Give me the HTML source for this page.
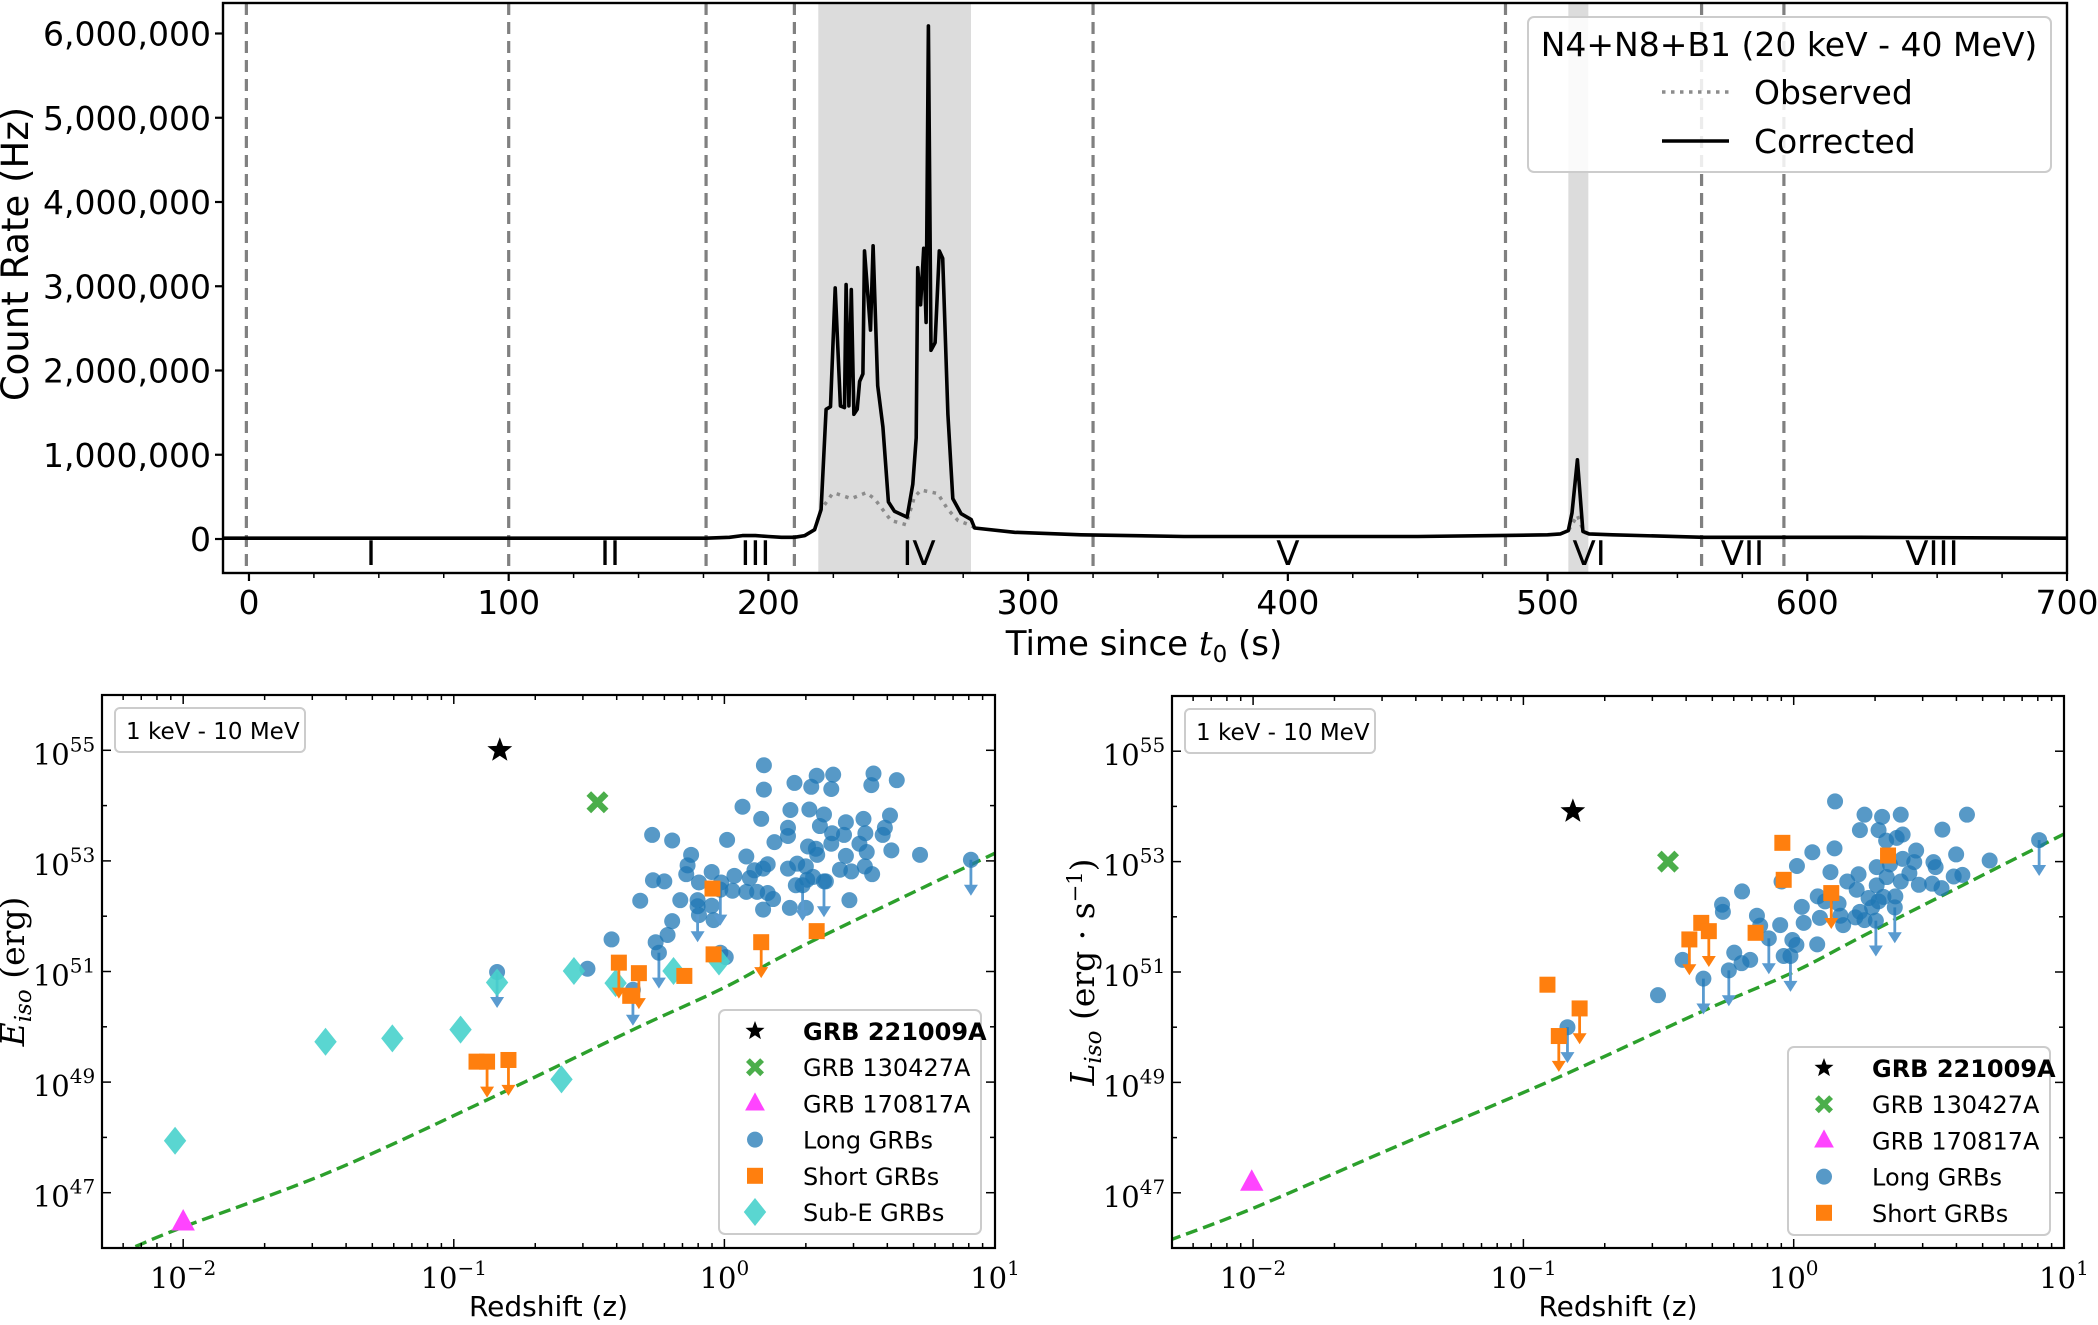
<!DOCTYPE html>
<html><head><meta charset="utf-8"><style>
html,body{margin:0;padding:0;background:#fff;}
svg{display:block;}
text{font-family:"DejaVu Sans","Liberation Sans",sans-serif;}
.serif{font-family:"DejaVu Serif","Liberation Serif",serif;}
</style></head><body>
<svg id="fig" width="2098" height="1325" viewBox="0 0 2098 1325" xmlns="http://www.w3.org/2000/svg"></svg>
<script>
// ===== Top light-curve data =====
const lcTimes = [-10,0,50,100,150,176,185,190,195,200,205,210,214,217.8,220.3,222.2,223.9,225.7,227.7,229.3,229.9,231,231.9,232.9,234.2,235.1,236.4,237,239.3,240.3,242.1,244.1,246.2,248.5,253.4,255.6,256.9,257.5,258.6,259.8,260.7,261.6,262.6,264.2,265.8,267.1,269.1,271,274.2,278.1,279.4,294.8,320.4,360,400,450,480,500,505,508,509.4,511.5,513.6,516,525,560,620,700];
const lcCorrected = [0.01,0.01,0.01,0.01,0.01,0.01,0.02,0.04,0.04,0.03,0.02,0.02,0.04,0.11,0.35,1.54,1.57,2.98,1.58,1.56,3.02,1.58,2.96,1.48,1.54,1.87,1.96,3.42,2.48,3.48,1.82,1.33,0.44,0.33,0.26,0.65,1.2,3.22,2.78,3.45,2.57,6.09,2.24,2.33,3.42,3.33,1.48,0.48,0.30,0.23,0.13,0.08,0.05,0.03,0.03,0.03,0.04,0.05,0.06,0.1,0.31,0.94,0.09,0.06,0.05,0.02,0.02,0.01];
const obsTimesA = [217.8,220.3,224.7,226,231.9,237.6,240.8,247.2,253,256.2,258.8,265.2,269.1,273,278.1,279.4];
const obsValsA = [0.11,0.35,0.54,0.54,0.48,0.55,0.48,0.22,0.17,0.50,0.58,0.54,0.35,0.22,0.16,0.13];
const obsTimesB = [505,508,511.5,514,516];
const obsValsB = [0.06,0.1,0.28,0.08,0.06];
const dividers = [-1,100,176,210,325,483.8,559.3,591];
const shadeStart = [219.2,508];
const shadeEnd = [278,515.7];
const regionNames = ['I','II','III','IV','V','VI','VII','VIII'];
const regionPos = [47,139,195,258,400,516,575,648];
const topXTicks = [0,100,200,300,400,500,600,700];
const topYTicks = [0,1,2,3,4,5,6];
const topYTickLabels = ['0','1,000,000','2,000,000','3,000,000','4,000,000','5,000,000','6,000,000'];

// ===== Bottom-left (Eiso) data: log10 z, log10 E =====
const longZ_E = [0.146,0.259,0.341,0.402,0.551,0.637,0.146,0.321,0.395,0.543,0.067,0.244,0.314,0.368,0.136,0.235,0.353,0.449,0.514,0.612,0.593,-0.267,-0.193,0.010,0.185,0.235,0.309,0.338,0.398,0.395,0.442,0.521,0.499,0.585,0.617,0.723,-0.123,-0.136,0.081,0.160,0.143,0.235,0.269,0.301,0.343,0.449,0.526,0.427,0.469,0.519,0.546,-0.264,-0.222,-0.141,-0.047,-0.012,0.037,0.094,0.111,0.264,0.306,0.328,0.375,-0.094,0.030,0.081,0.121,0.160,0.180,-0.311,-0.163,-0.099,-0.047,0.143,0.242,0.301,0.462,-0.193,-0.094,-0.040,-0.210,-0.417,-0.254,-0.015,0.005,-0.506];
const longE = [54.73,54.41,54.54,54.56,54.58,54.46,54.29,54.34,54.30,54.37,53.98,53.92,53.93,53.84,53.76,53.60,53.63,53.70,53.76,53.82,53.60,53.47,53.37,53.38,53.34,53.45,53.26,53.22,53.50,53.31,53.47,53.50,53.31,53.47,53.19,53.11,53.11,52.92,53.08,52.94,52.86,52.86,52.95,52.90,53.11,53.09,53.16,52.84,52.81,52.90,52.76,52.65,52.63,52.76,52.80,52.61,52.73,52.69,52.83,52.56,52.66,52.71,52.63,52.61,52.46,52.44,52.44,52.42,52.31,52.28,52.29,52.29,52.19,52.12,52.15,52.15,52.29,51.91,52.02,51.93,51.66,51.58,51.53,51.34,51.26,51.05];
const longUL_Z_E = [-0.242,-0.840,-0.338,0.911,0.289,0.368,-0.099,-0.015];
const longUL_E = [51.34,50.99,50.67,53.02,52.56,52.63,52.18,52.48];
const shortZ_E = [-0.044,0.341,-0.040,-0.148,-0.348,-0.916];
const shortE = [52.50,51.73,51.31,50.92,50.56,49.37];
const shortUL_Z_E = [0.136,-0.390,-0.316,-0.877,-0.798];
const shortUL_E = [51.53,51.16,50.97,49.37,49.40];
const subZ = [-2.03,-1.474,-1.227,-0.975,-0.840,-0.556,-0.402,-0.602,-0.188,-0.020];
const subE = [47.94,49.73,49.79,49.95,50.80,51.01,50.79,49.05,51.01,51.18];
const limitZ_E = [-2.3,-2.18,-2.0,-1.46,-0.876,-0.337,0,0.3,1.0];
const limitE = [45.78,46.02,46.38,47.37,48.68,49.95,50.71,51.49,53.14];

// ===== Bottom-right (Liso) data =====
const longZ_L = [0.153,0.262,0.327,0.396,0.641,0.245,0.314,0.550,0.403,0.342,0.381,0.069,0.151,0.453,0.601,0.725,0.012,0.307,0.356,0.403,0.446,0.517,0.525,0.136,0.240,0.198,0.307,0.344,0.396,0.428,0.463,0.512,0.592,0.624,0.547,-0.191,-0.045,0.089,0.116,0.233,0.277,0.332,0.376,-0.265,-0.262,0.030,0.166,0.245,0.290,0.314,0.097,0.173,0.228,-0.136,-0.124,-0.050,0.037,0.183,0.262,-0.005,0.010,0.087,-0.220,-0.161,-0.193,-0.037,-0.411,-0.502];
const longL = [54.09,53.85,53.81,53.85,53.85,53.57,53.57,53.58,53.49,53.38,53.43,53.17,53.24,53.20,53.13,53.02,52.92,52.90,52.95,53.05,52.99,52.99,52.90,52.81,52.77,52.64,52.57,52.72,52.64,52.79,52.58,52.60,52.73,52.76,52.52,52.46,52.64,52.37,52.28,52.49,52.34,52.36,52.37,52.22,52.09,52.18,52.24,52.09,52.17,52.28,51.98,52.02,51.99,52.02,51.84,51.85,51.89,51.85,51.94,51.58,51.49,51.50,51.35,51.22,51.16,51.29,51.22,50.58];
const longUL_Z_L = [-0.334,-0.837,0.908,0.304,0.374,-0.092,-0.012,-0.240];
const longUL_L = [50.88,50.00,53.39,51.93,52.17,51.61,51.29,51.03];
const shortZ_L = [-0.042,0.349,-0.037,-0.342,-0.141,-0.911];
const shortL = [53.34,53.11,52.67,51.89,51.71,50.77];
const shortUL_Z_L = [0.139,-0.314,-0.386,-0.792,-0.869];
const shortUL_L = [52.43,51.74,51.59,50.34,49.84];
const limitZ_L = [-2.31,-2.0,-1.46,-0.876,-0.337,0,0.299,1.0];
const limitL = [46.14,46.72,47.86,49.08,50.29,51.0,51.76,53.5];
const grb221009 = {eZ:-0.830, e:55.0, lZ:-0.817, l:53.91};
const grb130427 = {eZ:-0.469, e:54.06, lZ:-0.465, l:53.00};
const grb170817 = {eZ:-2.0, e:46.47, lZ:-2.005, l:47.19};

const NS='http://www.w3.org/2000/svg';
const svg=document.getElementById('fig');
function mk(tag, attrs, parent){const e=document.createElementNS(NS,tag);for(const k in attrs)e.setAttribute(k,attrs[k]);(parent||svg).appendChild(e);return e;}
function txt(s, attrs, parent){const e=mk('text',attrs,parent);e.textContent=s;return e;}
function smoothPath(pts){let d='M'+pts[0][0].toFixed(1)+','+pts[0][1].toFixed(1);
  for(let i=0;i<pts.length-1;i++){const p0=pts[i-1]||pts[i],p1=pts[i],p2=pts[i+1],p3=pts[i+2]||p2;
    const c1=[p1[0]+(p2[0]-p0[0])/6,p1[1]+(p2[1]-p0[1])/6],c2=[p2[0]-(p3[0]-p1[0])/6,p2[1]-(p3[1]-p1[1])/6];
    d+='C'+c1[0].toFixed(1)+','+c1[1].toFixed(1)+' '+c2[0].toFixed(1)+','+c2[1].toFixed(1)+' '+p2[0].toFixed(1)+','+p2[1].toFixed(1);}
  return d;}

// ================= TOP PLOT =================
const T={l:223,r:2067,t:3,b:573};
const tx=t=>T.l+(t+10)/710*(T.r-T.l);
const ty=v=>539-v*84.25;
const gTop=mk('g',{});


const clipT=mk('clipPath',{id:'clipTop'},gTop); mk('rect',{x:T.l,y:T.t,width:T.r-T.l,height:T.b-T.t},clipT);
for(let i=0;i<shadeStart.length;i++){
  const r=mk('rect',{x:tx(shadeStart[i]),y:T.t,width:tx(shadeEnd[i])-tx(shadeStart[i]),height:T.b-T.t,fill:'#dcdcdc'},gTop);
  
  
}
dividers.forEach((d,i)=>{
  const l=mk('line',{x1:tx(d),x2:tx(d),y1:T.t,y2:T.b,stroke:'#808080','stroke-width':3.2,'stroke-dasharray':'12,7'},gTop);
  
  
});
function pathFrom(ts,vs){return ts.map((t,i)=>(i?'L':'M')+tx(t).toFixed(1)+','+ty(vs[i]).toFixed(1)).join('');}
const obsA=mk('path',{d:pathFrom(obsTimesA,obsValsA),fill:'none',stroke:'#8c8c8c','stroke-width':3.5,'stroke-dasharray':'3.5,5.5','clip-path':'url(#clipTop)'},gTop);


const obsB=mk('path',{d:pathFrom(obsTimesB,obsValsB),fill:'none',stroke:'#8c8c8c','stroke-width':3.5,'stroke-dasharray':'3.5,5.5','clip-path':'url(#clipTop)'},gTop);


const corr=mk('path',{d:pathFrom(lcTimes,lcCorrected),fill:'none',stroke:'#000','stroke-width':3.6,'stroke-linejoin':'round','clip-path':'url(#clipTop)'},gTop);


regionNames.forEach((n,i)=>{
  const e=txt(n,{x:tx(regionPos[i]),y:565,'font-size':34,'text-anchor':'middle'},gTop);
  
  
});
mk('rect',{x:T.l,y:T.t,width:T.r-T.l,height:T.b-T.t,fill:'none',stroke:'#000','stroke-width':2.4},gTop);
for(let t=0;t<=700;t+=25){const big=(t%100===0);mk('line',{x1:tx(t),x2:tx(t),y1:T.b,y2:T.b+(big?8:5),stroke:'#000','stroke-width':big?2.2:1.5},gTop);}
topXTicks.forEach(t=>{
  const e=txt(String(t),{x:tx(t),y:614,'font-size':33,'text-anchor':'middle'},gTop);
  
  
});
topYTicks.forEach((v,i)=>{
  mk('line',{x1:T.l-8,x2:T.l,y1:ty(v),y2:ty(v),stroke:'#000','stroke-width':2.2},gTop);
  const e=txt(topYTickLabels[i],{x:T.l-12,y:ty(v)+12,'font-size':33,'text-anchor':'end'},gTop);
  
  
});
const yl=txt('Count Rate (Hz)',{x:0,y:0,'font-size':37,'text-anchor':'middle',transform:'translate(28,254) rotate(-90)'},gTop);


const xl=mk('text',{x:1144,y:655,'font-size':34,'text-anchor':'middle'},gTop);


xl.innerHTML='Time since <tspan font-style="italic" font-family="DejaVu Serif, serif">t</tspan><tspan font-size="23" dy="7">0</tspan><tspan dy="-7"> (s)</tspan>';
// top legend
const lg=mk('g',{},gTop);


mk('rect',{x:1528,y:17,width:523,height:155,rx:6,fill:'#fff','fill-opacity':0.85,stroke:'#cccccc','stroke-width':2},lg);
txt('N4+N8+B1 (20 keV - 40 MeV)',{x:1789,y:56,'font-size':33,'text-anchor':'middle'},lg);
mk('line',{x1:1662,x2:1729,y1:92,y2:92,stroke:'#8c8c8c','stroke-width':3.5,'stroke-dasharray':'3.5,5.5'},lg);
const lo=txt('Observed',{x:1754,y:104,'font-size':33},lg);


mk('line',{x1:1662,x2:1729,y1:141,y2:141,stroke:'#000','stroke-width':3.6},lg);
const lc=txt('Corrected',{x:1754,y:153,'font-size':33},lg);



// ================= BOTTOM PLOTS =================
const BLUE='#1f77b4', ORANGE='#ff7f0e', CYAN='#48d1cc', GREEN='#2ca02c', MAG='#ff44ff';
function star(g,cx,cy,R,fill){let p='';for(let i=0;i<10;i++){const r=i%2?R*0.42:R;const a=-Math.PI/2+i*Math.PI/5;p+=(i?'L':'M')+(cx+r*Math.cos(a)).toFixed(1)+','+(cy+r*Math.sin(a)).toFixed(1);}return mk('path',{d:p+'Z',fill:fill},g);}
function xmark(g,cx,cy,s,fill){const w=s*0.42;const d=`M${cx-s},${cy-s+w}L${cx-s+w},${cy-s}L${cx},${cy-w}L${cx+s-w},${cy-s}L${cx+s},${cy-s+w}L${cx+w},${cy}L${cx+s},${cy+s-w}L${cx+s-w},${cy+s}L${cx},${cy+w}L${cx-s+w},${cy+s}L${cx-s},${cy+s-w}L${cx-w},${cy}Z`;return mk('path',{d:d,fill:fill,'fill-opacity':0.85},g);}
function tri(g,cx,cy,s,fill){return mk('path',{d:`M${cx},${cy-s}L${cx+s*0.9},${cy+s*0.65}L${cx-s*0.9},${cy+s*0.65}Z`,fill:fill},g);}
function diamond(g,cx,cy,s,fill){return mk('path',{d:`M${cx},${cy-s}L${cx+s*0.8},${cy}L${cx},${cy+s}L${cx-s*0.8},${cy}Z`,fill:fill,'fill-opacity':0.9},g);}
function arrow(g,x,y1,y2,col){mk('line',{x1:x,x2:x,y1:y1,y2:y2-6,stroke:col,'stroke-width':2.8},g);mk('path',{d:`M${x-7},${y2-11}L${x+7},${y2-11}L${x},${y2}Z`,fill:col},g);}

function panel(opt){
  const P=opt.box;
  const X=lz=>P.l+(lz+2.3)/3.3*(P.r-P.l);
  const Y=le=>P.t+(56-le)/10*(P.b-P.t);
  const g=mk('g',{});
  
  
  const cid='clip'+opt.name;
  const cp=mk('clipPath',{id:cid},g);mk('rect',{x:P.l,y:P.t,width:P.r-P.l,height:P.b-P.t},cp);
  const lim=mk('path',{d:smoothPath(opt.limZ.map((z,i)=>[X(z),Y(opt.limV[i])])),fill:'none',stroke:GREEN,'stroke-width':3.4,'stroke-dasharray':'12,6','clip-path':`url(#${cid})`},g);
  
  
  const AL=0.65;
  opt.longZ.forEach((z,i)=>{const c=mk('circle',{cx:X(z),cy:Y(opt.longV[i]),r:8,fill:BLUE,'fill-opacity':0.75},g);
    
    });
  opt.lulZ.forEach((z,i)=>{const y=Y(opt.lulV[i]);arrow(g,X(z),y,Y(opt.lulV[i]-AL),'#5a9bd0');const c=mk('circle',{cx:X(z),cy:y,r:8,fill:BLUE,'fill-opacity':0.75},g);
    
    });
  if(opt.subZ){opt.subZ.forEach((z,i)=>{const d=diamond(g,X(z),Y(opt.subV[i]),14,CYAN);
    
    });}
  opt.shortZ.forEach((z,i)=>{const s=mk('rect',{x:X(z)-8,y:Y(opt.shortV[i])-8,width:16,height:16,fill:ORANGE},g);
    
    });
  opt.sulZ.forEach((z,i)=>{const y=Y(opt.sulV[i]);arrow(g,X(z),y,Y(opt.sulV[i]-AL),ORANGE);const s=mk('rect',{x:X(z)-8,y:y-8,width:16,height:16,fill:ORANGE},g);
    
    });
  const s1=star(g,X(opt.star[0]),Y(opt.star[1]),13,'#000');
  
  
  const s2=xmark(g,X(opt.xm[0]),Y(opt.xm[1]),11,'#2ca02c');
  
  
  const s3=tri(g,X(opt.tr[0]),Y(opt.tr[1]),13,MAG);
  
  
  // frame + ticks
  mk('rect',{x:P.l,y:P.t,width:P.r-P.l,height:P.b-P.t,fill:'none',stroke:'#000','stroke-width':2.2},g);
  for(let d=-3;d<=1;d++){for(let m=1;m<10;m++){const lz=d+Math.log10(m);if(lz<-2.3||lz>1.0001)continue;const x=X(lz);const L=m===1?9:5;
    mk('line',{x1:x,x2:x,y1:P.b,y2:P.b-L,stroke:'#000','stroke-width':1.5},g);mk('line',{x1:x,x2:x,y1:P.t,y2:P.t+L,stroke:'#000','stroke-width':1.5},g);}}
  [-2,-1,0,1].forEach(e=>{const t=mk('text',{x:X(e),y:P.b+40,'font-size':29,'text-anchor':'middle','class':'serif'},g);
    
    
    t.innerHTML='10<tspan font-size="20" dy="-13">'+(e<0?'\u2212'+(-e):e)+'</tspan>';});
  for(let e=46;e<=56;e++){const y=Y(e);const L=(e%2)?9:5;mk('line',{x1:P.l,x2:P.l+L,y1:y,y2:y,stroke:'#000','stroke-width':1.5},g);mk('line',{x1:P.r,x2:P.r-L,y1:y,y2:y,stroke:'#000','stroke-width':1.5},g);}
  [47,49,51,53,55].forEach(e=>{const t=mk('text',{x:P.l-38,y:Y(e)+14,'font-size':29,'text-anchor':'middle','class':'serif'},g);
    
    
    t.innerHTML='10<tspan font-size="20" dy="-13">'+e+'</tspan>';});
  const xt=txt('Redshift (z)',{x:(P.l+P.r)/2,y:1316,'font-size':28,'text-anchor':'middle'},g);
  
  
  const ytg=mk('text',{x:0,y:0,'font-size':33,'text-anchor':'middle',transform:`translate(${opt.ylx},${(P.t+P.b)/2}) rotate(-90)`},g);
  
  
  ytg.innerHTML=opt.ylabel;
  // energy range box
  const bx=mk('g',{},g);
  
  
  mk('rect',{x:P.l+13,y:P.t+13,width:190,height:44,rx:5,fill:'#fff',stroke:'#cccccc','stroke-width':2},bx);
  txt('1 keV - 10 MeV',{x:P.l+24,y:P.t+44,'font-size':23},bx);
  // legend
  const L=opt.leg;
  const lgg=mk('g',{},g);
  
  
  mk('rect',{x:L.x,y:L.y,width:L.w,height:L.h,rx:6,fill:'#fff','fill-opacity':0.85,stroke:'#cccccc','stroke-width':2},lgg);
  const mx=L.x+36, tx0=L.x+84;
  const labels=['GRB 221009A','GRB 130427A','GRB 170817A','Long GRBs','Short GRBs','Sub-E GRBs'].slice(0,opt.subZ?6:5);
  labels.forEach((s,i)=>{const y=L.y+21+i*36.2;
    if(i===0)star(lgg,mx,y,10,'#000');
    if(i===1)xmark(lgg,mx,y,9,'#2ca02c');
    if(i===2)tri(lgg,mx,y,11,MAG);
    if(i===3)mk('circle',{cx:mx,cy:y,r:8,fill:BLUE,'fill-opacity':0.75},lgg);
    if(i===4)mk('rect',{x:mx-8,y:y-8,width:16,height:16,fill:ORANGE},lgg);
    if(i===5)diamond(lgg,mx,y,14,CYAN);
    const t=txt(s,{x:tx0,y:y+9,'font-size':24,'font-weight':i===0?'bold':'normal'},lgg);
    
    
  });
}
panel({name:'eiso-panel',box:{l:102,r:995,t:695,b:1248},
  longZ:longZ_E,longV:longE,lulZ:longUL_Z_E,lulV:longUL_E,shortZ:shortZ_E,shortV:shortE,sulZ:shortUL_Z_E,sulV:shortUL_E,
  subZ:subZ,subV:subE,limZ:limitZ_E,limV:limitE,star:[grb221009.eZ,grb221009.e],xm:[grb130427.eZ,grb130427.e],tr:[grb170817.eZ,grb170817.e],
  ylx:24,ylabel:'<tspan font-family="DejaVu Serif, serif" font-style="italic">E</tspan><tspan font-family="DejaVu Serif, serif" font-style="italic" font-size="23" dy="7">iso</tspan><tspan dy="-7" font-family="DejaVu Serif, serif"> (erg)</tspan>',
  leg:{x:719,y:1010,w:262,h:224}});
panel({name:'liso-panel',box:{l:1172,r:2064,t:696,b:1248},
  longZ:longZ_L,longV:longL,lulZ:longUL_Z_L,lulV:longUL_L,shortZ:shortZ_L,shortV:shortL,sulZ:shortUL_Z_L,sulV:shortUL_L,
  subZ:null,limZ:limitZ_L,limV:limitL,star:[grb221009.lZ,grb221009.l],xm:[grb130427.lZ,grb130427.l],tr:[grb170817.lZ,grb170817.l],
  ylx:1094,ylabel:'<tspan font-family="DejaVu Serif, serif" font-style="italic">L</tspan><tspan font-family="DejaVu Serif, serif" font-style="italic" font-size="23" dy="7">iso</tspan><tspan dy="-7" font-family="DejaVu Serif, serif"> (erg · s</tspan><tspan font-family="DejaVu Serif, serif" font-size="21" dy="-12">−1</tspan><tspan font-family="DejaVu Serif, serif" dy="12">)</tspan>',
  leg:{x:1788,y:1047,w:262,h:188}});
</script>
</body></html>
